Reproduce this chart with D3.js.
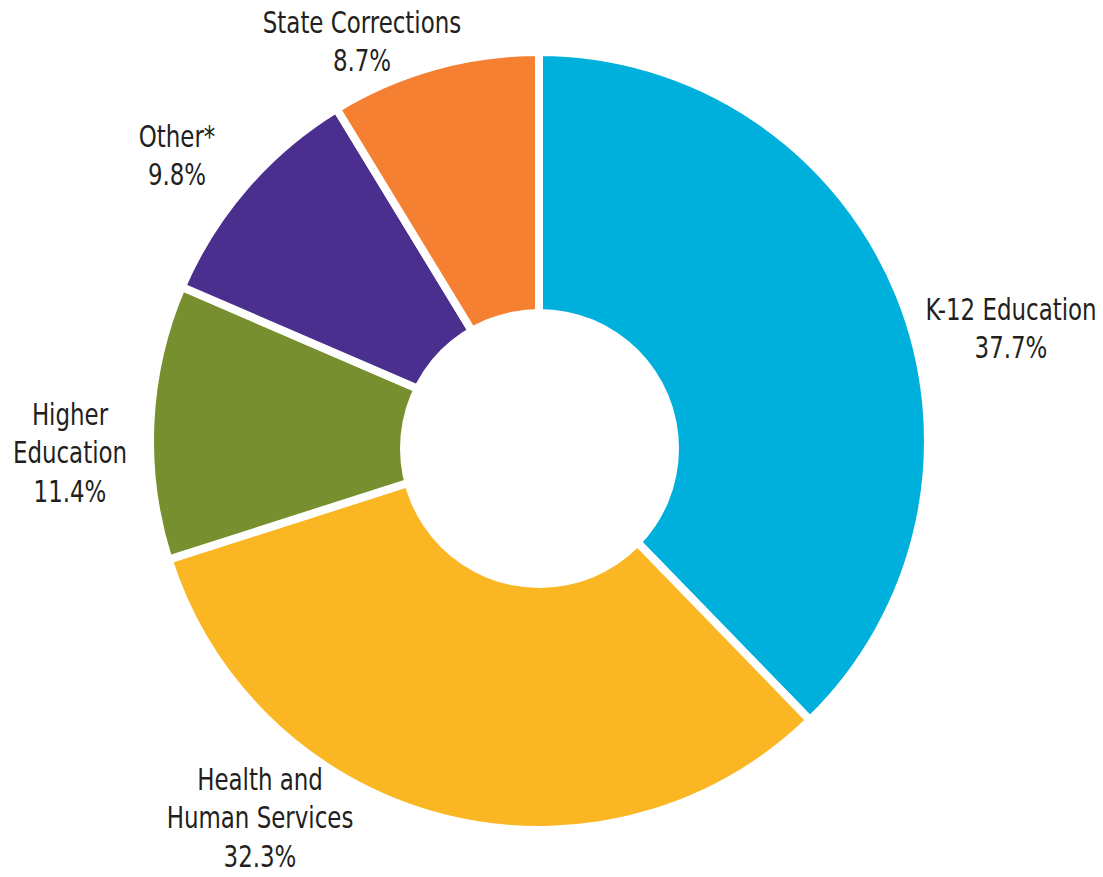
<!DOCTYPE html>
<html>
<head>
<meta charset="utf-8">
<script src="https://cdn.jsdelivr.net/npm/d3@7"></script>
<style>
  body { margin: 0; background: #fff; }
  svg text { font-family: "DejaVu Sans Condensed", "Liberation Sans Narrow", sans-serif; fill: #231f20; }
</style>
</head>
<body>
<svg id="chart" width="1103" height="877"></svg>
<script>
// data
const categories = ["K-12 Education", "Health and Human Services", "Higher Education", "Other*", "State Corrections"];
const shares = [37.7, 32.3, 11.4, 9.8, 8.7];
const labelLines = [
    ["K-12 Education", "37.7%"],
    ["Health and", "Human Services", "32.3%"],
    ["Higher", "Education", "11.4%"],
    ["Other*", "9.8%"],
    ["State Corrections", "8.7%"]
];
const colors = ["#00b0dc", "#fbb624", "#778f2e", "#4a2f8f", "#f58032"];

// label anchor spots (center x, first baseline)
const labelPos = [
    [1011, 320],
    [260, 790],
    [70, 425],
    [177, 147],
    [362, 33]
];

const svg = d3.select("#chart");
const cx = 539, cy = 441;
const outerR = 389;

const g = svg.append("g").attr("transform", `translate(${cx},${cy})`);

const pie = d3.pie().sort(null).value(d => d);
const arc = d3.arc().innerRadius(60).outerRadius(outerR);

const data = pie(shares);

g.selectAll("path")
    .data(data)
    .enter()
    .append("path")
    .attr("d", arc)
    .attr("fill", (d, i) => colors[i])
    .attr("stroke", "#fff")
    .attr("stroke-width", 8)
    .attr("stroke-linejoin", "miter");

// the hole sits a bit lower than the ring center
svg.append("circle")
    .attr("cx", 539.5)
    .attr("cy", 448.5)
    .attr("r", 139.5)
    .attr("fill", "#fff");

// labels - condensed look via horizontal squeeze
const lineH = 38.5;
labelLines.forEach((lines, i) => {
    const t = svg.append("text")
        .attr("transform", `translate(${labelPos[i][0]},${labelPos[i][1]}) scale(0.85,1)`)
        .attr("text-anchor", "middle")
        .attr("font-size", "30px");
    lines.forEach((s, j) => {
        t.append("tspan")
            .attr("x", 0)
            .attr("y", j * lineH)
            .text(s);
    });
});
</script>
</body>
</html>
